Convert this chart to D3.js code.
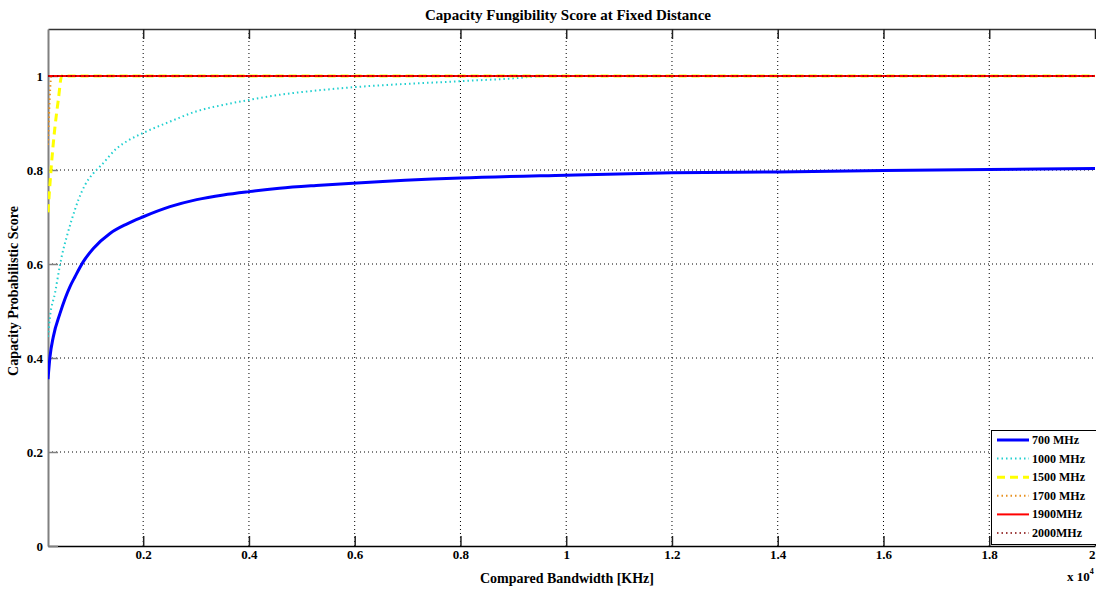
<!DOCTYPE html>
<html><head><meta charset="utf-8">
<script src="https://cdn.jsdelivr.net/npm/d3@7"></script>
<style>
body{margin:0;background:#fff;}
text{font-family:"Liberation Serif","Times New Roman",serif;font-weight:bold;}
</style></head>
<body><svg id="c" width="1096" height="591"></svg>
<script>
// ---- data ----
const xTicks = [2000,4000,6000,8000,10000,12000,14000,16000,18000,20000];
const xTickLabels = ["0.2","0.4","0.6","0.8","1","1.2","1.4","1.6","1.8","2"];
const yTicks = [0,0.2,0.4,0.6,0.8,1];
const yTickLabels = ["0","0.2","0.4","0.6","0.8","1"];
const seriesNames = ["700 MHz","1000 MHz","1500 MHz","1700 MHz","1900MHz","2000MHz"];

const x700 = [200,238,300,427,616,711,868,1057,1372,1688,1991,2507,3012,3516,4000,4576,5271,5963,8000,10000,12000,14000,16000,18000,20000];
const y700 = [0.355,0.403,0.445,0.495,0.552,0.573,0.605,0.633,0.665,0.685,0.700,0.722,0.737,0.747,0.754,0.761,0.767,0.772,0.783,0.789,0.794,0.796,0.799,0.801,0.803];
const x1000 = [200,238,332,427,459,554,648,773,900,1057,1215,1499,1751,2002,2507,3012,3579,4000,4576,5271,5963,8000,9000,9600,20000];
const y1000 = [0.445,0.488,0.538,0.598,0.616,0.658,0.694,0.736,0.768,0.793,0.811,0.846,0.865,0.879,0.903,0.925,0.940,0.949,0.960,0.969,0.976,0.989,0.995,1.0,1.0];
const x1500 = [200,257,332,395,459,20000];
const y1500 = [0.71,0.80,0.892,0.949,1.0,1.0];
const x1700 = [200,220,240,262,20000];
const y1700 = [0.853,0.92,0.97,1.0,1.0];
const x1900 = [200,20000];
const y1900 = [1,1];
const x2000 = [200,20000];
const y2000 = [1,1];

const styles = [
  {color:"#0000ff", w:3, dash:null},
  {color:"#22d0d0", w:2, dash:"1.5,3"},
  {color:"#ffff00", w:3, dash:"8,5"},
  {color:"#e8901e", w:2, dash:"1.5,3"},
  {color:"#ff0000", w:2, dash:null},
  {color:"#800000", w:1.5, dash:"1.5,3"}
];
const seriesData = [[x700,y700],[x1000,y1000],[x1500,y1500],[x1700,y1700],[x1900,y1900],[x2000,y2000]];

// ---- layout ----
const svg = d3.select("#c");
const L=48, R=1095, T=29, B=546;
const x = d3.scaleLinear().domain([200,20000]).range([L,R]);
const y = d3.scaleLinear().domain([0,1.1]).range([B,T]);

svg.append("defs").append("clipPath").attr("id","clip")
  .append("rect").attr("x",L).attr("y",T).attr("width",R-L+2).attr("height",B-T);

// grid
const g = svg.append("g");
g.selectAll("line.gx").data(xTicks.slice(0,-1)).enter().append("line")
  .attr("x1",d=>x(d)).attr("x2",d=>x(d)).attr("y1",T).attr("y2",B)
  .attr("stroke","#000").attr("stroke-width",1).attr("stroke-dasharray","1,3");
g.selectAll("line.gy").data(yTicks.slice(1)).enter().append("line")
  .attr("x1",L).attr("x2",R+1).attr("y1",d=>y(d)).attr("y2",d=>y(d))
  .attr("stroke","#000").attr("stroke-width",1).attr("stroke-dasharray","1,3");

// axes via d3
const xAxis = d3.axisBottom(x).tickValues(xTicks).tickFormat((d,i)=>xTickLabels[i]).tickSizeInner(-10).tickSizeOuter(0).tickPadding(4);
const gx = svg.append("g").attr("transform",`translate(0,${B})`).call(xAxis);
gx.select(".domain").attr("stroke","#000").attr("stroke-width",1.5);
gx.selectAll(".tick line").attr("stroke","#222").attr("stroke-width",1.5);
gx.selectAll("text").attr("font-size",13).attr("fill","#000").style("font-family","'Liberation Serif',serif").style("font-weight","bold");
gx.selectAll(".tick").filter((d,i)=>i===xTicks.length-1).select("text").attr("text-anchor","end").attr("dx",0);

const xTop = d3.axisTop(x).tickValues(xTicks).tickFormat("").tickSizeInner(-10).tickSizeOuter(0);
const gxt = svg.append("g").attr("transform",`translate(0,${T})`).call(xTop);
gxt.select(".domain").attr("stroke","#333").attr("stroke-width",1.5);
gxt.selectAll(".tick line").attr("stroke","#222").attr("stroke-width",1.5);

const yAxis = d3.axisLeft(y).tickValues(yTicks).tickFormat((d,i)=>yTickLabels[i]).tickSizeInner(-10).tickSizeOuter(0).tickPadding(5);
const gy = svg.append("g").attr("transform",`translate(${L},0)`).call(yAxis);
gy.select(".domain").attr("stroke","#808080").attr("stroke-width",2);
gy.selectAll(".tick line").attr("stroke","#808080").attr("stroke-width",1.5);
gy.selectAll("text").attr("font-size",13).attr("fill","#000").style("font-family","'Liberation Serif',serif").style("font-weight","bold");

// lines
const plot = svg.append("g").attr("clip-path","url(#clip)");
const line = d3.line().curve(d3.curveMonotoneX);
seriesData.forEach((s,i)=>{
  const pts = s[0].map((v,k)=>[x(v), y(s[1][k])]);
  plot.append("path").attr("d",line(pts)).attr("fill","none")
    .attr("stroke",styles[i].color).attr("stroke-width",styles[i].w)
    .attr("stroke-dasharray",styles[i].dash);
});

// titles
svg.append("text").attr("x",568).attr("y",20).attr("text-anchor","middle").attr("font-size",15)
  .text("Capacity Fungibility Score at Fixed Distance");
svg.append("text").attr("x",567).attr("y",583).attr("text-anchor","middle").attr("font-size",14)
  .text("Compared Bandwidth [KHz]");
svg.append("text").attr("transform","translate(18,291) rotate(-90)").attr("text-anchor","middle").attr("font-size",14)
  .text("Capacity Probabilistic Score");
const ex = svg.append("text").attr("x",1067).attr("y",581).attr("font-size",13);
ex.append("tspan").text("x 10");
ex.append("tspan").attr("dy",-7).attr("font-size",8).text("4");

// legend
const lg = svg.append("g");
lg.append("rect").attr("x",991.5).attr("y",430.5).attr("width",110).attr("height",114)
  .attr("fill","#fff").attr("stroke","#000").attr("stroke-width",1);
seriesNames.forEach((n,i)=>{
  const yy = 440 + i*18.6;
  lg.append("line").attr("x1",997).attr("x2",1029).attr("y1",yy).attr("y2",yy)
    .attr("stroke",styles[i].color).attr("stroke-width",styles[i].w)
    .attr("stroke-dasharray",styles[i].dash);
  lg.append("text").attr("x",1032).attr("y",yy+4).attr("font-size",12).text(n);
});
</script></body></html>
